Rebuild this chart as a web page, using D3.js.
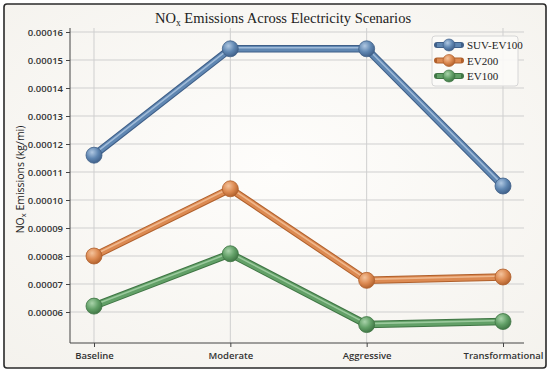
<!DOCTYPE html>
<html>
<head>
<meta charset="utf-8">
<script src="https://cdn.jsdelivr.net/npm/d3@7"></script>
<style>
  html, body { margin: 0; padding: 0; background: #fff; }
  svg { display: block; }
</style>
</head>
<body>
<div id="chart"></div>
<script>
// data
const categories = ["Baseline", "Moderate", "Aggressive", "Transformational"];
const suvEv100 = [0.000116, 0.000154, 0.000154, 0.000105];
const ev200 = [0.0000800, 0.000104, 0.0000713, 0.0000725];
const ev100 = [0.0000621, 0.0000808, 0.0000555, 0.0000566];
const yTicks = [0.00006, 0.00007, 0.00008, 0.00009, 0.00010, 0.00011, 0.00012, 0.00013, 0.00014, 0.00015, 0.00016];

const seriesList = [
  { name: "SUV-EV100", values: suvEv100, base: "#6087b2", dark: "#3f5f88", light: "#b0c8e2" },
  { name: "EV200", values: ev200, base: "#dc8a52", dark: "#b0602c", light: "#f4c39c" },
  { name: "EV100", values: ev100, base: "#62a067", dark: "#3f7544", light: "#a9d3aa" }
];

const W = 550, H = 372;
const plot = { left: 70, right: 524, top: 32, bottom: 343 };

const svg = d3.select("#chart").append("svg")
  .attr("width", W)
  .attr("height", H);

const defs = svg.append("defs");

// paper background
const bg = defs.append("radialGradient").attr("id", "paper")
  .attr("cx", "50%").attr("cy", "45%").attr("r", "75%");
bg.append("stop").attr("offset", "0%").attr("stop-color", "#fefdfb");
bg.append("stop").attr("offset", "100%").attr("stop-color", "#f4f2ed");

svg.append("rect")
  .attr("x", 0).attr("y", 0).attr("width", W).attr("height", H)
  .attr("fill", "#fff");
svg.append("rect")
  .attr("x", 4).attr("y", 4).attr("width", W - 8).attr("height", H - 8)
  .attr("rx", 3)
  .attr("fill", "url(#paper)")
  .attr("stroke", "#2a2a2a")
  .attr("stroke-width", 1.6);

// gradients for markers
seriesList.forEach((s, i) => {
  const g = defs.append("radialGradient").attr("id", "ball" + i)
    .attr("cx", "38%").attr("cy", "32%").attr("r", "70%");
  g.append("stop").attr("offset", "0%").attr("stop-color", s.light);
  g.append("stop").attr("offset", "55%").attr("stop-color", s.base);
  g.append("stop").attr("offset", "100%").attr("stop-color", s.dark);
});

const x = d3.scalePoint()
  .domain(categories)
  .range([94, 503]);

const y = d3.scaleLinear()
  .domain([0.00006, 0.00016])
  .range([312, 32]);

// gridlines
const grid = svg.append("g");
grid.selectAll(".hg").data(yTicks).join("line")
  .attr("x1", plot.left).attr("x2", plot.right)
  .attr("y1", d => y(d)).attr("y2", d => y(d))
  .attr("stroke", "#cfcfcf").attr("stroke-width", 1);
grid.selectAll(".vg").data(categories).join("line")
  .attr("x1", d => x(d)).attr("x2", d => x(d))
  .attr("y1", plot.top - 4).attr("y2", plot.bottom)
  .attr("stroke", "#cfcfcf").attr("stroke-width", 1);

// axes
const yAxis = svg.append("g")
  .attr("transform", `translate(${plot.left},0)`)
  .call(d3.axisLeft(y).tickValues(yTicks).tickFormat(d3.format(".5f")).tickSize(4));
yAxis.select(".domain").attr("d", `M0,${plot.top - 4}V${plot.bottom}`).attr("stroke", "#444");
yAxis.selectAll(".tick line").attr("stroke", "#444");
yAxis.selectAll("text")
  .attr("font-family", "'Open Sans', sans-serif")
  .attr("font-size", 9.5)
  .attr("font-weight", 600)
  .attr("fill", "#333");

const xAxis = svg.append("g")
  .attr("transform", `translate(0,${plot.bottom})`)
  .call(d3.axisBottom(x).tickSize(4));
xAxis.select(".domain").attr("d", `M${plot.left},0H${plot.right}`).attr("stroke", "#444");
xAxis.selectAll(".tick line").attr("stroke", "#444");
xAxis.selectAll("text")
  .attr("font-family", "'Open Sans', sans-serif")
  .attr("font-size", 9.5)
  .attr("font-weight", 600)
  .attr("fill", "#333")
  .attr("dy", "0.95em");

// title
const title = svg.append("text")
  .attr("x", W / 2 + 8).attr("y", 23)
  .attr("text-anchor", "middle")
  .attr("font-family", "'Liberation Serif', 'DejaVu Serif', serif")
  .attr("font-size", 14.5)
  .attr("fill", "#222");
title.append("tspan").text("NO");
title.append("tspan").attr("font-size", 9.5).attr("dy", 3).text("x");
title.append("tspan").attr("dy", -3).text(" Emissions Across Electricity Scenarios");

// y label
const ylab = svg.append("text")
  .attr("transform", `translate(24,${(plot.top + plot.bottom) / 2 - 8}) rotate(-90)`)
  .attr("text-anchor", "middle")
  .attr("font-family", "'Open Sans', sans-serif")
  .attr("font-size", 10.5)
  .attr("fill", "#222");
ylab.append("tspan").text("NO");
ylab.append("tspan").attr("font-size", 7.5).attr("dy", 2).text("x");
ylab.append("tspan").attr("dy", -2).text(" Emissions (kg/mi)");

// lines as shaded tubes
const line = d3.line()
  .x((d, i) => x(categories[i]))
  .y(d => y(d));

seriesList.forEach((s, i) => {
  const g = svg.append("g");
  g.append("path").attr("d", line(s.values))
    .attr("fill", "none").attr("stroke", s.dark).attr("stroke-width", 7.5)
    .attr("stroke-linejoin", "round").attr("stroke-linecap", "round");
  g.append("path").attr("d", line(s.values))
    .attr("fill", "none").attr("stroke", s.base).attr("stroke-width", 5.5)
    .attr("stroke-linejoin", "round");
  g.append("path").attr("d", line(s.values))
    .attr("fill", "none").attr("stroke", s.light).attr("stroke-width", 1.6)
    .attr("stroke-opacity", 0.8)
    .attr("transform", "translate(0,-1)")
    .attr("stroke-linejoin", "round");
  g.selectAll("circle").data(s.values).join("circle")
    .attr("cx", (d, j) => x(categories[j]))
    .attr("cy", d => y(d))
    .attr("r", 8)
    .attr("fill", `url(#ball${i})`)
    .attr("stroke", s.dark)
    .attr("stroke-width", 0.8);
});

// legend
const legend = svg.append("g").attr("transform", "translate(432,36)");
legend.append("rect")
  .attr("width", 86).attr("height", 50).attr("rx", 3)
  .attr("fill", "#fbfaf7").attr("fill-opacity", 0.92)
  .attr("stroke", "#d6d6d6");
seriesList.forEach((s, i) => {
  const row = legend.append("g").attr("transform", `translate(0,${9 + i * 15.5})`);
  row.append("line").attr("x1", 5).attr("x2", 29)
    .attr("stroke", s.dark).attr("stroke-width", 6).attr("stroke-linecap", "round");
  row.append("line").attr("x1", 5).attr("x2", 29)
    .attr("stroke", s.base).attr("stroke-width", 4);
  row.append("circle").attr("cx", 17).attr("r", 6)
    .attr("fill", `url(#ball${i})`).attr("stroke", s.dark).attr("stroke-width", 0.7);
  row.append("text").attr("x", 35).attr("y", 4)
    .attr("font-family", "'Liberation Serif', 'DejaVu Serif', serif")
    .attr("font-size", 11)
    .attr("fill", "#222")
    .text(s.name);
});
</script>
</body>
</html>
